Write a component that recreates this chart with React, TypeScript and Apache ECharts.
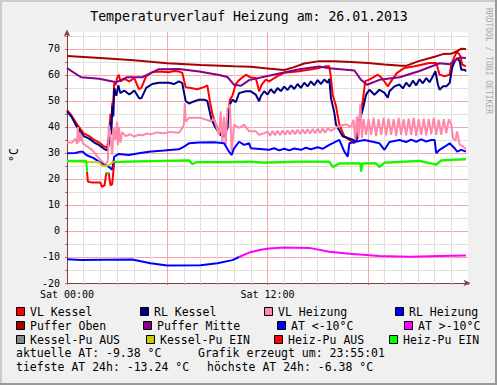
import React, { useEffect, useRef } from 'react';
import * as echarts from 'echarts';

// time in hours since Sat 00:00, value in °C
const vlKessel: [number, number][] = [
  [0, 46.5], [0.26, 44.5], [0.6, 41], [1.0, 37.5], [1.33, 36.5], [1.63, 35], [1.93, 34], [2.23, 32.5], [2.41, 32],
  [2.53, 38], [2.6, 45], [2.65, 41], [2.71, 49], [2.77, 50], [2.83, 56.9], [2.9, 56], [3.0, 58.8], [3.1, 60.1],
  [3.2, 57.5], [3.43, 58.5], [3.73, 57.5], [4.03, 58.8], [4.3, 54.5], [4.45, 55], [4.74, 59.5], [5.1, 61],
  [5.5, 61.3], [6.1, 61], [6.4, 61.5], [6.7, 61.3], [6.9, 60.8], [7.1, 55.3], [7.4, 55], [7.8, 54.5], [8.2, 55.3],
  [8.4, 56], [8.55, 50], [8.7, 45], [8.9, 41], [9.17, 37.5], [9.4, 37], [9.6, 40], [9.75, 50.5], [9.9, 52],
  [10.1, 56.5], [10.3, 58], [10.7, 60.1], [11.0, 59], [11.3, 58.8], [11.5, 53.7], [11.65, 56.3], [11.9, 58.2],
  [12.1, 57.5], [12.6, 59.5], [13.0, 60.8], [13.9, 61.4], [15.1, 62.7], [15.5, 63.3], [15.7, 63.3], [15.8, 58.8],
  [15.9, 52.4], [16.1, 48], [16.3, 40.9], [16.6, 36.4], [17.2, 33.8], [17.4, 35.8], [17.55, 46], [17.7, 49.9],
  [17.85, 57.6], [18.1, 58.2], [18.6, 60.1], [18.85, 58.8], [19.2, 55.6], [19.4, 57.6], [19.75, 60.8], [20.2, 62.7],
  [20.8, 63.3], [21.7, 64.6], [22.1, 64.6], [22.3, 60.1], [22.6, 59.5], [22.9, 60.1], [23.0, 64], [23.2, 67.2],
  [23.35, 69.1], [23.55, 67.2], [23.65, 64], [23.88, 63.3],
];

const rlKessel: [number, number][] = [
  [0, 46], [0.26, 44], [0.6, 40], [1.0, 36.5], [1.33, 35.5], [1.63, 34], [1.93, 33], [2.23, 31.5], [2.41, 31],
  [2.53, 34], [2.6, 42], [2.65, 37], [2.71, 48], [2.77, 44], [2.83, 55], [2.95, 52], [3.07, 56], [3.19, 53],
  [3.43, 54], [3.73, 52.5], [4.03, 54], [4.32, 51], [4.45, 51], [4.74, 55], [5.1, 56.5], [5.5, 57], [6.1, 57],
  [6.4, 56.5], [6.7, 57.5], [6.9, 56.8], [7.1, 50], [7.3, 49], [7.6, 49.8], [7.9, 50.5], [8.2, 50.5], [8.4, 50],
  [8.64, 43], [8.87, 40], [9.17, 37], [9.4, 36.4], [9.6, 39.5], [9.7, 48], [9.9, 50.5], [10.1, 49.5], [10.3, 53],
  [10.7, 53.7], [11.0, 53.7], [11.3, 52.4], [11.5, 49.9], [11.6, 51.8], [11.8, 53.7], [12.0, 52.5], [12.2, 54.5],
  [12.4, 53.0], [12.6, 55.0], [12.8, 53.8], [13.0, 55.5], [13.2, 54.2], [13.4, 56.0], [13.6, 54.6], [13.8, 56.5],
  [14.0, 55.0], [14.2, 57.0], [14.4, 55.6], [14.6, 57.5], [14.8, 56.0], [15.0, 58.0], [15.2, 56.5], [15.4, 58.2],
  [15.6, 57.0], [15.7, 58.5], [15.8, 51], [16.0, 45.4], [16.1, 40.9], [16.5, 36.4], [17.1, 35.1], [17.3, 34.5],
  [17.5, 42.3], [17.7, 46.7], [17.9, 52.4], [18.1, 54.3], [18.4, 52.4], [18.7, 54.3], [19.0, 53.1], [19.2, 51.2],
  [19.3, 53.7], [19.6, 55.6], [19.9, 56.3], [20.1, 54.8], [20.3, 57.0], [20.5, 55.5], [20.7, 57.8], [20.9, 56.0],
  [21.1, 58.3], [21.3, 56.8], [21.5, 58.8], [21.7, 57.2], [21.9, 59.5], [22.05, 61.4], [22.2, 56.3], [22.3, 54.3],
  [22.5, 55.6], [22.7, 55.6], [22.9, 56.9], [23.05, 62.7], [23.2, 65.3], [23.35, 66.5], [23.5, 65.3], [23.6, 62],
  [23.8, 62], [23.88, 61.4],
];

const vlHeizung: [number, number][] = [
  [0, 34], [0.3, 34], [0.5, 35.5], [0.6, 33.5], [0.65, 40], [0.7, 34], [0.75, 38], [0.8, 34.5], [0.85, 37],
  [0.95, 33.7], [1.2, 32.5], [1.5, 31.2], [1.9, 28], [2.3, 25.4], [2.45, 27], [2.5, 40.9], [2.6, 37], [2.7, 29.4],
  [2.8, 39.6], [2.9, 35], [3.0, 42], [3.05, 33], [3.1, 40], [3.2, 34], [3.3, 38], [3.5, 36.5], [3.8, 37.2],
  [4.0, 36.3], [4.3, 37.0], [4.5, 36.8], [4.8, 37.5], [5.0, 37.2], [5.4, 37.9], [5.8, 37.6], [6.2, 38.1],
  [6.7, 37.8], [6.9, 39.5], [7.0, 41], [7.05, 49.2], [7.1, 42], [7.3, 43.5], [8.0, 43.5], [8.6, 42.2], [8.8, 43],
  [9.1, 37], [9.2, 46], [9.3, 34], [9.4, 44], [9.5, 33.2], [9.6, 47], [9.75, 48.6], [9.85, 30.6], [10.0, 40.9],
  [10.3, 39.6], [10.6, 40.9], [10.9, 38.3], [11.3, 38.3], [11.5, 37], [11.8, 37.6], [12.0, 38.2], [12.15, 36.6],
  [12.3, 38.4], [12.45, 36.8], [12.6, 38.5], [12.75, 36.9], [12.9, 38.6], [13.05, 37.0], [13.2, 38.7],
  [13.35, 37.1], [13.5, 38.8], [13.65, 37.2], [13.8, 38.9], [13.95, 37.3], [14.1, 39.0], [14.25, 37.4],
  [14.4, 39.1], [14.55, 37.5], [14.7, 39.2], [14.85, 37.6], [15.0, 39.3], [15.15, 37.7], [15.3, 39.4],
  [15.45, 37.8], [15.6, 39.5], [15.8, 38.5], [16.2, 40.1], [16.7, 41], [17.0, 40], [17.15, 42.7], [17.25, 35],
  [17.35, 44], [17.45, 36], [17.55, 48.6], [17.65, 35.8], [17.75, 43], [17.9, 37], [18.05, 43], [18.2, 37],
  [18.35, 43.5], [18.5, 36.5], [18.65, 43], [18.8, 37], [18.95, 43.5], [19.1, 36.8], [19.25, 43.2], [19.4, 37],
  [19.55, 43], [19.7, 36.5], [19.85, 43.5], [20.0, 37], [20.15, 43], [20.3, 36.8], [20.45, 43.2], [20.6, 37],
  [20.75, 43.5], [20.9, 36.6], [21.05, 43], [21.2, 37], [21.35, 43.2], [21.5, 36.8], [21.65, 43], [21.8, 37.2],
  [21.95, 43.5], [22.1, 37], [22.25, 42.8], [22.4, 37], [22.55, 43], [22.7, 37.5], [22.85, 43], [23.0, 40.9],
  [23.1, 35.8], [23.25, 34.6], [23.35, 38.3], [23.5, 33.2], [23.7, 32.5], [23.88, 31.5],
];

const rlHeizung: [number, number][] = [
  [0, 29.9], [0.5, 30], [0.8, 30.5], [0.95, 30.5], [1.15, 29.2], [1.6, 28], [2.2, 25.4], [2.5, 24.7], [2.7, 23.5],
  [2.83, 28.6], [3.1, 29.6], [3.7, 29.2], [4.3, 29.9], [4.9, 30.5], [5.8, 30.9], [6.7, 31.4], [7.0, 32.4],
  [7.3, 33.7], [7.9, 34], [8.8, 34.1], [9.4, 33.7], [9.7, 30.5], [9.85, 29.2], [10.0, 31.8], [10.3, 34.3],
  [10.6, 33.1], [10.9, 33.7], [11.0, 31.8], [12.1, 31.2], [12.4, 31.8], [12.7, 31.0], [13.0, 31.6], [13.3, 31.0],
  [13.6, 31.7], [14.0, 31.2], [14.3, 32.0], [14.6, 31.4], [15.0, 32.2], [15.3, 31.6], [15.7, 33.1], [16.3, 35],
  [16.6, 30.5], [16.8, 28.6], [16.9, 33.7], [17.2, 34.2], [17.8, 35], [18.7, 33.7], [19.0, 31.2], [19.3, 34.2],
  [19.9, 35], [20.3, 34.2], [20.6, 35.1], [20.9, 34.3], [21.2, 35.2], [21.5, 34.4], [21.8, 35.0], [22.0, 35],
  [22.1, 29.9], [22.3, 31.2], [22.6, 32.4], [22.9, 33.7], [23.2, 31.8], [23.35, 30.5], [23.6, 31.2], [23.88, 30.5],
];

const pufferOben: [number, number][] = [
  [0, 67.3], [2, 66.5], [4, 65.6], [6, 64.5], [8, 63.8], [10, 63.3], [11, 63.1], [12, 62.5], [13, 61.9],
  [13.5, 62.8], [14.2, 64.4], [15.1, 65.3], [16, 65.3], [17, 65.0], [18, 64.6], [19, 64.0], [20, 63.5],
  [20.3, 63.5], [21, 65.2], [22, 67.0], [22.5, 68.0], [23.0, 68.1], [23.3, 69.0], [23.6, 70.1], [23.88, 70],
];

const pufferMitte: [number, number][] = [
  [0, 62.6], [0.84, 59.1], [1.93, 58.5], [2.95, 57.2], [3.6, 59.1], [4.5, 59.1], [5.5, 62.2], [6.7, 62.3],
  [7.91, 61.3], [9.11, 60], [9.6, 59.2], [10.0, 56.2], [10.4, 55.8], [10.9, 58], [11.8, 59.3], [13.9, 62.2],
  [15.1, 63.2], [15.7, 62.6], [17.2, 61.7], [17.6, 58.1], [17.96, 56.2], [18.7, 58.1], [19.9, 59.1], [21.1, 61.5],
  [22.3, 64.5], [22.9, 64.1], [23.5, 66.7], [23.88, 66.5],
];

const aussen: [number, number][] = [
  [0, -10.9], [0.8, -11.2], [3.9, -11.0], [5.0, -12.4], [6.0, -13.24], [8.0, -13.2], [9.0, -12.4], [9.9, -11.2],
  [10.3, -10.0], [10.9, -8.3], [11.6, -7.2], [12.1, -6.7], [13.0, -6.38], [14.5, -6.5], [15.7, -8.0], [16.9, -8.8],
  [18.7, -9.6], [20.5, -9.9], [22.3, -9.6], [23.88, -9.38],
];

const kesselPu: [number, number][] = [
  [0, 26.7], [1.9, 26.4], [2.1, 25.2], [2.35, 24.9], [2.55, 25.5], [2.75, 26.5], [3.5, 26.6], [5.8, 26.8],
  [7.3, 27.0], [7.5, 25.6], [7.75, 26.3], [9.7, 26.3], [10.9, 26.5], [11.8, 26.1], [13.9, 26.5], [15.7, 26.5],
  [15.9, 24.5], [16.3, 25.8], [18.5, 25.8], [18.7, 24.5], [19.0, 26.1], [21.1, 26.8], [22.1, 25.4], [22.4, 27.0],
  [23.88, 27.5],
];
const kesselPuState: number[] = kesselPu.map(() => 1);

const heizPu: [number, number][] = [
  [0, 27.0], [1.15, 27.0], [1.2, 22.8], [1.25, 19], [1.5, 18.6], [2.0, 18.6], [2.1, 17], [2.25, 17.5],
  [2.35, 22.2], [2.5, 22.2], [2.6, 17.5], [2.7, 18], [2.83, 26.5], [3.7, 26.7], [5.8, 27], [7.3, 27.2],
  [7.5, 25.8], [7.75, 26.5], [9.7, 26.5], [10.9, 26.7], [11.8, 26.3], [13.9, 26.7], [15.7, 26.7], [15.9, 24.7],
  [16.3, 26], [17.55, 26], [17.6, 22.8], [17.7, 26], [18.5, 26], [18.7, 24.7], [19.0, 26.3], [21.1, 27],
  [22.1, 25.6], [22.4, 27.2], [23.88, 27.7],
];
const heizPuState: number[] = [
  1, 1, 0, 0, 0, 0, 0, 0, 1, 0, 0, 0, 1, 1, 1, 1, 1, 1, 1, 1, 1, 1, 1, 1, 1, 1, 1, 1, 1, 1, 1, 1, 1, 1, 1,
];

const xTickLabels: Record<number, string> = { 0: 'Sat 00:00', 12: 'Sat 12:00' };

const legendRows: { name: string; color: string }[][] = [
  [
    { name: 'VL Kessel', color: '#ff0000' },
    { name: 'RL Kessel', color: '#000080' },
    { name: 'VL Heizung', color: '#ff88aa' },
    { name: 'RL Heizung', color: '#0000ff' },
  ],
  [
    { name: 'Puffer Oben', color: '#aa0000' },
    { name: 'Puffer Mitte', color: '#880088' },
    { name: 'AT <-10°C', color: '#0000ff' },
    { name: 'AT >-10°C', color: '#ff00ff' },
  ],
  [
    { name: 'Kessel-Pu AUS', color: '#888888' },
    { name: 'Kessel-Pu EIN', color: '#cccc00' },
    { name: 'Heiz-Pu AUS', color: '#ff0000' },
    { name: 'Heiz-Pu EIN', color: '#00ff00' },
  ],
];

const infoLines: [string, string][] = [
  ['aktuelle AT: -9.38 °C', 'Grafik erzeugt um: 23:55:01'],
  ['tiefste AT 24h: -13.24 °C', 'höchste AT 24h: -6.38 °C'],
];

const TITLE = 'Temperaturverlauf Heizung am: 26.01.2013';

function splitByState(pts: [number, number][], states: number[], want: number) {
  return pts.map((p, i) =>
    states[i] === want || (i > 0 && states[i - 1] === want) ? p : [p[0], null]
  );
}

const MONO = '"DejaVu Sans Mono", monospace';

export default function App() {
  const ref = useRef<HTMLDivElement>(null);
  useEffect(() => {
    const chart = echarts.init(ref.current!, undefined, { renderer: 'svg' });
    const atState = aussen.map((p) => (p[1] < -10 ? 0 : 1));

    const line = (name: string, data: any[], color: string) => ({
      name,
      type: 'line',
      data,
      showSymbol: false,
      symbol: 'none',
      connectNulls: false,
      silent: true,
      lineStyle: { color, width: 2 },
      itemStyle: { color },
      z: 3,
    });

    const legendX = [
      [16, 140, 264, 395],
      [16, 143, 277, 404],
      [16, 146, 274, 389],
    ];
    const rowY = [311.5, 325.5, 339.5];
    const graphics: any[] = [
      { type: 'rect', shape: { x: 0, y: 0, width: 497, height: 2 }, style: { fill: '#cbcbcb' }, silent: true },
      { type: 'rect', shape: { x: 0, y: 0, width: 2, height: 385 }, style: { fill: '#cbcbcb' }, silent: true },
      { type: 'rect', shape: { x: 495, y: 0, width: 2, height: 385 }, style: { fill: '#999999' }, silent: true },
      { type: 'rect', shape: { x: 0, y: 383, width: 497, height: 2 }, style: { fill: '#999999' }, silent: true },
      {
        type: 'text', x: 249, y: 16,
        style: { text: TITLE, font: `13.2px ${MONO}`, fill: '#000', textAlign: 'center', textVerticalAlign: 'middle' },
      },
      {
        type: 'text', x: 13.5, y: 155, rotation: Math.PI / 2,
        style: { text: '°C', font: `11.5px ${MONO}`, fill: '#000', textAlign: 'center', textVerticalAlign: 'middle' },
      },
      {
        type: 'text', x: 488, y: 61, rotation: -Math.PI / 2,
        style: { text: 'RRDTOOL / TOBI OETIKER', font: `8px ${MONO}`, fill: '#a8a8a8', textAlign: 'center', textVerticalAlign: 'middle' },
      },
    ];
    legendRows.forEach((row, r) => {
      row.forEach((item, c) => {
        const x = legendX[r][c];
        const y = rowY[r];
        graphics.push({
          type: 'rect',
          shape: { x: x + 0.5, y: y - 4, width: 8, height: 8 },
          style: { fill: item.color, stroke: '#000', lineWidth: 1 },
          silent: true,
        });
        graphics.push({
          type: 'text', x: x + 14, y,
          style: { text: item.name, font: `11.5px ${MONO}`, fill: '#000', textAlign: 'left', textVerticalAlign: 'middle' },
        });
      });
    });
    const infoX = [
      [16, 198],
      [16, 207],
    ];
    const infoY = [353, 367];
    infoLines.forEach((pair, r) => {
      pair.forEach((t, c) => {
        graphics.push({
          type: 'text', x: infoX[r][c], y: infoY[r],
          style: { text: t, font: `11.5px ${MONO}`, fill: '#000', textAlign: 'left', textVerticalAlign: 'middle' },
        });
      });
    });

    const axisColor = '#804040';
    chart.setOption({
      animation: false,
      backgroundColor: '#f0f0f0',
      grid: { left: 67, top: 32, width: 401, height: 251, show: true, backgroundColor: '#ffffff', borderWidth: 0 },
      xAxis: {
        type: 'value',
        min: 0,
        max: 24,
        interval: 6,
        axisLine: {
          show: true, onZero: false,
          lineStyle: { color: axisColor, width: 1 },
          symbol: ['none', 'arrow'], symbolSize: [5, 7], symbolOffset: [0, 2.5],
        },
        axisTick: { show: true, length: 2, lineStyle: { color: '#d06060' } },
        minorTick: { show: true, splitNumber: 6, length: 2, lineStyle: { color: '#b0b0b0' } },
        axisLabel: {
          margin: 6,
          fontFamily: 'DejaVu Sans Mono',
          fontSize: 10,
          color: '#000',
          showMaxLabel: false,
          formatter: (v: number) => xTickLabels[v] ?? '',
        },
        splitLine: { show: true, showMinLine: false, showMaxLine: false, lineStyle: { color: '#f4a8a8', width: 1 } },
        minorSplitLine: { show: true, lineStyle: { color: '#e0e0e0', width: 1 } },
      },
      yAxis: {
        type: 'value',
        min: -20,
        max: 76.5,
        interval: 5,
        axisLine: {
          show: true, onZero: false,
          lineStyle: { color: axisColor, width: 1 },
          symbol: ['none', 'arrow'], symbolSize: [5, 7], symbolOffset: [0, 2.5],
        },
        axisTick: { show: true, length: 2, lineStyle: { color: '#d06060' } },
        axisLabel: {
          margin: 7,
          fontFamily: 'DejaVu Sans Mono',
          fontSize: 10,
          color: '#000',
          showMaxLabel: false,
          formatter: (v: number) => (Math.abs(v % 10) < 1e-9 ? String(v) : ''),
        },
        splitLine: {
          show: true, showMinLine: true, showMaxLine: false,
          lineStyle: { color: ['#f4a8a8', '#e0e0e0'], width: 1 },
        },
      },
      graphic: graphics,
      series: [
        line('VL Kessel', vlKessel, '#ff0000'),
        line('RL Kessel', rlKessel, '#000080'),
        line('VL Heizung', vlHeizung, '#ff88aa'),
        line('RL Heizung', rlHeizung, '#0000ff'),
        line('Puffer Oben', pufferOben, '#aa0000'),
        line('Puffer Mitte', pufferMitte, '#880088'),
        line('AT <-10°C', splitByState(aussen, atState, 0), '#0000ff'),
        line('AT >-10°C', splitByState(aussen, atState, 1), '#ff00ff'),
        line('Kessel-Pu AUS', splitByState(kesselPu, kesselPuState, 0), '#888888'),
        line('Kessel-Pu EIN', splitByState(kesselPu, kesselPuState, 1), '#cccc00'),
        line('Heiz-Pu AUS', splitByState(heizPu, heizPuState, 0), '#ff0000'),
        line('Heiz-Pu EIN', splitByState(heizPu, heizPuState, 1), '#00ff00'),
      ],
    });
    return () => chart.dispose();
  }, []);
  return <div ref={ref} style={{ position: 'absolute', left: 0, top: 0, width: 497, height: 385 }} />;
}
